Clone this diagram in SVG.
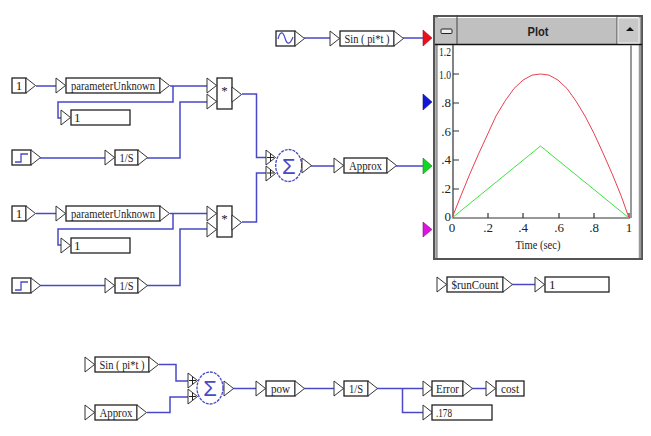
<svg xmlns="http://www.w3.org/2000/svg" width="651" height="436" viewBox="0 0 651 436">
<style>
text{font-family:"Liberation Serif","Times New Roman",serif;font-size:13px;fill:#222}
.b{fill:#fff;stroke:#222;stroke-width:1.3}
.p{fill:#fff;stroke:#333;stroke-width:1}
.c{fill:none;stroke:#4848c8;stroke-width:1.5}
.m{text-anchor:middle}
.r{text-anchor:end}
.ax{fill:none;stroke:#333;stroke-width:1.2}
.s{fill:#4848c8;font-family:"Liberation Sans",Arial,sans-serif;font-size:22px;text-anchor:middle}
.e{fill:#fff;stroke:#4848c8;stroke-width:1.3;stroke-dasharray:3 1}
.plus{fill:none;stroke:#222;stroke-width:1}
</style>
<defs>
<polygon id="t" class="p" points="0,0 9.500,7.500 0,15"/>
</defs>
<rect width="651" height="436" fill="#fff"/>
<g id="connectors">
<path class="c" d="M304 38H330M403 38H423"/>
<path class="c" d="M36 86H56M170 86H207M173 86V102H58V118H61M40 158H105M147 158H180V102H207"/>
<path class="c" d="M36 213.500H56M170 213.500H207M173 213.500V229H58V245H61M40 285.500H105M147 285.500H180V229H207"/>
<path class="c" d="M242 94H256.500V157.500H267M242 222H256.500V173H267M311 166H334M396 166H423"/>
<path class="c" d="M512 284.500H535"/>
<path class="c" d="M159 364.500H176V381H188M147 412.500H170V397H188M233 388.500H256M304 388.500H334M377 388.500H423M402.500 388.500V412.500H423M472 388.500H486"/>
</g>
<g id="sine-source">
<rect class="b" x="276" y="31" width="19" height="15"/>
<path d="M278 39C280 31 283 31 285 38S290 45 293 37" fill="none" stroke="#4848c8" stroke-width="1.2"/>
<use href="#t" x="295" y="31"/>
</g>
<g id="sin-block">
<use href="#t" x="330" y="31"/>
<rect class="b" x="340" y="31" width="54" height="15"/>
<text x="367" y="43" class="m" textLength="45" lengthAdjust="spacingAndGlyphs">Sin ( pi*t )</text>
<use href="#t" x="394" y="31"/>
</g>
<g id="const-1a">
<rect class="b" x="12" y="78" width="14" height="15"/>
<text x="19" y="90" class="m">1</text>
<use href="#t" x="26" y="78"/>
</g>
<g id="param-a">
<use href="#t" x="56" y="78"/>
<rect class="b" x="66" y="78" width="94" height="15"/>
<text x="113" y="90" class="m" textLength="84" lengthAdjust="spacingAndGlyphs">parameterUnknown</text>
<use href="#t" x="160" y="78"/>
</g>
<g id="display-a">
<use href="#t" x="61" y="110"/>
<rect class="b" x="71" y="110" width="59" height="15"/>
<text x="74" y="122">1</text>
</g>
<g id="step-a">
<rect class="b" x="12" y="150" width="19" height="15"/>
<path d="M15 162H21V154H28" fill="none" stroke="#4848c8" stroke-width="1.300"/>
<use href="#t" x="31" y="150"/>
</g>
<g id="int-a">
<use href="#t" x="105" y="150"/>
<rect class="b" x="115" y="150" width="23" height="15"/>
<text x="126.500" y="162" class="m" textLength="14" lengthAdjust="spacingAndGlyphs">1/S</text>
<use href="#t" x="138" y="150"/>
</g>
<g id="mult-a">
<use href="#t" x="207" y="78"/>
<use href="#t" x="207" y="94"/>
<rect class="b" x="217" y="78" width="15" height="31"/>
<text x="224.500" y="95" class="m">*</text>
<use href="#t" x="232" y="87"/>
</g>
<g id="const-1b">
<rect class="b" x="12" y="206" width="14" height="15"/>
<text x="19" y="218" class="m">1</text>
<use href="#t" x="26" y="206"/>
</g>
<g id="param-b">
<use href="#t" x="56" y="206"/>
<rect class="b" x="66" y="206" width="94" height="15"/>
<text x="113" y="218" class="m" textLength="84" lengthAdjust="spacingAndGlyphs">parameterUnknown</text>
<use href="#t" x="160" y="206"/>
</g>
<g id="display-b">
<use href="#t" x="61" y="238"/>
<rect class="b" x="71" y="238" width="59" height="15"/>
<text x="74" y="250">1</text>
</g>
<g id="step-b">
<rect class="b" x="12" y="278" width="19" height="15"/>
<path d="M15 290H21V282H28" fill="none" stroke="#4848c8" stroke-width="1.300"/>
<use href="#t" x="31" y="278"/>
</g>
<g id="int-b">
<use href="#t" x="105" y="278"/>
<rect class="b" x="115" y="278" width="23" height="15"/>
<text x="126.500" y="290" class="m" textLength="14" lengthAdjust="spacingAndGlyphs">1/S</text>
<use href="#t" x="138" y="278"/>
</g>
<g id="mult-b">
<use href="#t" x="207" y="206"/>
<use href="#t" x="207" y="222"/>
<rect class="b" x="217" y="206" width="15" height="31"/>
<text x="224.500" y="223" class="m">*</text>
<use href="#t" x="232" y="215"/>
</g>
<g id="sum-a">
<use href="#t" x="266" y="150"/>
<use href="#t" x="266" y="166"/>
<path class="plus" d="M267 157.500h7M270.500 154v7M267 173h7M270.500 169.500v7"/>
<ellipse class="e" cx="288.700" cy="165.500" rx="13" ry="16"/>
<text class="s" x="288.700" y="173.500">Σ</text>
<use href="#t" x="302" y="158"/>
</g>
<g id="approx-block">
<use href="#t" x="334" y="158"/>
<rect class="b" x="344" y="158" width="43" height="15"/>
<text x="365.500" y="170" class="m" textLength="33" lengthAdjust="spacingAndGlyphs">Approx</text>
<use href="#t" x="387" y="158"/>
</g>
<g id="plot">
<polygon points="423,30 432,38 423,46" fill="#e8101c" stroke="#a01020" stroke-width=".6"/>
<polygon points="423,94 432,102 423,110" fill="#1018d8" stroke="#101080" stroke-width=".6"/>
<polygon points="423,158 432,166 423,174" fill="#10d820" stroke="#108020" stroke-width=".6"/>
<polygon points="423,222 432,229.500 423,237" fill="#e010e0" stroke="#801080" stroke-width=".6"/>
<rect x="434" y="16" width="208" height="243" fill="#fff" stroke="#555" stroke-width="2"/>
<path d="M436.500 17V258M640 17V258" stroke="#999" stroke-width="2.500"/>
<rect x="435" y="18" width="205" height="26" fill="#c0c0c0"/>
<path d="M435 44.500H642" stroke="#111" stroke-width="1.500"/>
<path d="M457 15V44M617 15V44" stroke="#444"/>
<rect x="618" y="18" width="21" height="25" fill="#c8c8c8" stroke="#eee" stroke-width="1"/>
<polygon points="630,27 634,31 626,31" fill="#111"/>
<rect x="441" y="29" width="11" height="4.500" rx="1" fill="#eee" stroke="#222"/>
<text x="538" y="36" class="m" textLength="21" lengthAdjust="spacingAndGlyphs" style="font-family:'Liberation Sans',Arial,sans-serif;font-size:13px;font-weight:bold">Plot</text>
<path d="M631 45V218" stroke="#999" stroke-width="2"/>
<path class="ax" d="M453 45V218H630M453 74h6M453 103h6M453 131h6M453 160h6M453 189h6M488 218v-5M523 218v-5M559 218v-5M594 218v-5M629 218v-5"/>
<polyline fill="none" stroke="#e84050" stroke-width="1" points="452,218 461,195.500 470,173.500 479,153 488,133.400 496,116 505,101.100 514,88.500 523,80.100 532,75.100 540.500,74 549,75.100 558,80.100 567,88.500 576,101.100 585,116 594,133.400 603,153 612,173.500 621,195.500 629,218"/>
<polyline fill="none" stroke="#40e040" stroke-width="1" points="452,218 540.500,146 629,218"/>
<text x="451" y="56" class="r" textLength="12" lengthAdjust="spacingAndGlyphs">1.2</text>
<text x="451" y="78.500" class="r" textLength="12" lengthAdjust="spacingAndGlyphs">1.0</text>
<text x="451" y="107" class="r">.8</text>
<text x="451" y="136" class="r">.6</text>
<text x="451" y="164" class="r">.4</text>
<text x="451" y="193" class="r">.2</text>
<text x="451" y="221" class="r">0</text>
<text x="452" y="232" class="m">0</text>
<text x="488" y="232" class="m">.2</text>
<text x="523" y="232" class="m">.4</text>
<text x="559" y="232" class="m">.6</text>
<text x="594" y="232" class="m">.8</text>
<text x="629" y="232" class="m">1</text>
<text x="538" y="249" class="m" textLength="45" lengthAdjust="spacingAndGlyphs">Time (sec)</text>
</g>
<g id="runcount">
<use href="#t" x="437" y="277"/>
<rect class="b" x="447" y="277" width="56" height="15"/>
<text x="475" y="289" class="m" textLength="47" lengthAdjust="spacingAndGlyphs">$runCount</text>
<use href="#t" x="503" y="277"/>
</g>
<g id="display-run">
<use href="#t" x="535" y="277"/>
<rect class="b" x="545" y="277" width="64" height="15"/>
<text x="549" y="289">1</text>
</g>
<g id="sin-read">
<use href="#t" x="85" y="357"/>
<rect class="b" x="95" y="357" width="54" height="15"/>
<text x="122" y="369" class="m" textLength="45" lengthAdjust="spacingAndGlyphs">Sin ( pi*t )</text>
<use href="#t" x="149" y="357"/>
</g>
<g id="approx-read">
<use href="#t" x="85" y="405"/>
<rect class="b" x="95" y="405" width="42" height="15"/>
<text x="116" y="417" class="m" textLength="33" lengthAdjust="spacingAndGlyphs">Approx</text>
<use href="#t" x="137" y="405"/>
</g>
<g id="sum-b">
<use href="#t" x="188" y="373"/>
<use href="#t" x="188" y="389"/>
<path class="plus" d="M189 380.500h7M192.500 377v7M189 396.500h7M192.500 393v7"/>
<ellipse class="e" cx="210" cy="388" rx="13" ry="16"/>
<text class="s" x="210" y="396">Σ</text>
<use href="#t" x="224" y="381"/>
</g>
<g id="pow">
<use href="#t" x="256" y="381"/>
<rect class="b" x="266" y="381" width="29" height="15"/>
<text x="280.500" y="393" class="m" textLength="19" lengthAdjust="spacingAndGlyphs">pow</text>
<use href="#t" x="295" y="381"/>
</g>
<g id="int-c">
<use href="#t" x="334" y="381"/>
<rect class="b" x="344" y="381" width="24" height="15"/>
<text x="356" y="393" class="m" textLength="14" lengthAdjust="spacingAndGlyphs">1/S</text>
<use href="#t" x="368" y="381"/>
</g>
<g id="error">
<use href="#t" x="423" y="381"/>
<rect class="b" x="432" y="381" width="31" height="15"/>
<text x="447.500" y="393" class="m" textLength="23" lengthAdjust="spacingAndGlyphs">Error</text>
<use href="#t" x="463" y="381"/>
</g>
<g id="cost">
<use href="#t" x="486" y="381"/>
<rect class="b" x="496" y="381" width="28" height="15"/>
<text x="510" y="393" class="m" textLength="18" lengthAdjust="spacingAndGlyphs">cost</text>
</g>
<g id="display-error">
<use href="#t" x="423" y="405"/>
<rect class="b" x="432" y="405" width="60" height="15"/>
<text x="436" y="417" textLength="16" lengthAdjust="spacingAndGlyphs">.178</text>
</g>
</svg>
